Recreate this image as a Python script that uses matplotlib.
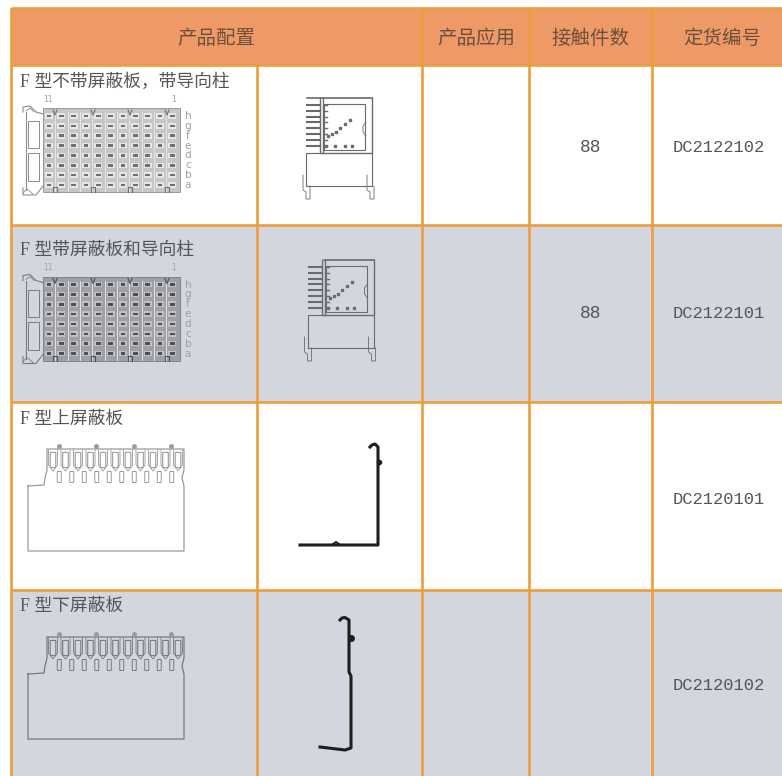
import matplotlib
matplotlib.use("Agg")
import matplotlib.pyplot as plt
from matplotlib.patches import Rectangle, FancyBboxPatch

plt.rcParams["font.family"] = ["Noto Sans CJK SC", "DejaVu Sans"]

# table content
headers = ["产品配置", "产品应用", "接触件数", "定货编号"]
row_titles = ["F 型不带屏蔽板，带导向柱", "F 型带屏蔽板和导向柱", "F 型上屏蔽板", "F 型下屏蔽板"]
contact_counts = ["88", "88", "", ""]
order_codes = ["DC2122102", "DC2122101", "DC2120101", "DC2120102"]
pin_rows = ["h", "g", "f", "e", "d", "c", "b", "a"]
pin_cols = ["11", "1"]

# table grid in image pixels
col_edges = [11, 257, 422, 529, 652, 782]
row_edges = [8, 65, 225, 402, 590, 776]
header_centers = [216, 476, 591, 722]
title_y = [82, 250, 419, 606]
value_y = [147, 314, 500, 686]

HEADER_FILL = "#EE9A66"
LINE_COLOR = "#EB9E3C"
ROW_GRAY = "#D3D6DE"
TEXT_COLOR = "#555557"
HEADER_TEXT = "#6E4E3C"


def draw_grid(ax):
    ax.add_patch(Rectangle((col_edges[0], row_edges[0]), col_edges[-1] - col_edges[0],
                           row_edges[1] - row_edges[0], fc=HEADER_FILL, ec="none"))
    for i in (1, 3):
        ax.add_patch(Rectangle((col_edges[0], row_edges[i + 1]), col_edges[-1] - col_edges[0],
                               row_edges[i + 2] - row_edges[i + 1], fc=ROW_GRAY, ec="none"))
    for y in row_edges[:-1]:
        ax.plot([col_edges[0], col_edges[-1]], [y, y], color=LINE_COLOR, lw=1.9, solid_capstyle="butt")
    for i, x in enumerate(col_edges[:-1]):
        top = row_edges[1] if i == 1 else row_edges[0]
        ax.plot([x, x], [top, row_edges[-1]], color=LINE_COLOR, lw=1.9, solid_capstyle="butt")


def draw_front(ax, dy, fill, box, cell, edge):
    # connector seen from the mating face
    ax.add_patch(Rectangle((43, 108 + dy), 137, 84, fc=fill, ec=edge, lw=0.6))
    ax.plot([23, 23, 30, 36, 43], [112 + dy, 107 + dy, 106 + dy, 112 + dy, 114 + dy], color=edge, lw=0.8)
    ax.plot([23, 23, 36, 43], [188 + dy, 195 + dy, 195 + dy, 186 + dy], color=edge, lw=0.8)
    ax.plot([23, 27, 33], [193 + dy, 189 + dy, 194 + dy], color=edge, lw=0.6)
    ax.plot([26, 30, 34], [111 + dy, 108 + dy, 112 + dy], color=edge, lw=0.6)
    ax.plot([26, 26], [112 + dy, 190 + dy], color=edge, lw=0.8)
    ax.add_patch(Rectangle((28, 121 + dy), 11, 27, fc="none", ec=edge, lw=0.7))
    ax.add_patch(Rectangle((28, 153 + dy), 11, 28, fc="none", ec=edge, lw=0.7))
    for c in range(11):
        x = 49 + c * 12.33
        if c > 0:
            ax.plot([x - 6, x - 6], [112 + dy, 191 + dy], color="#EEEEEE", lw=0.6)
        for r in range(8):
            y = 116 + r * 9.86 + dy
            ax.add_patch(Rectangle((x - 4, y - 2.8), 8, 5.6, fc=box, ec="none"))
            ax.add_patch(Rectangle((x - 2.2, y - 1.3), 4.4, 2.6, fc=cell, ec="none"))
    for x in (55, 93, 130, 167):
        ax.plot([x - 2, x, x + 2], [110 + dy, 115 + dy, 110 + dy], color=cell, lw=0.8)
        ax.plot([x - 2, x - 2, x + 2, x + 2], [192 + dy, 187 + dy, 187 + dy, 192 + dy], color=cell, lw=0.8)
    for r, letter in enumerate(pin_rows):
        ax.text(188, 116 + r * 9.86 + dy, letter, fontsize=7.5, color="#A0A0A0",
                ha="center", va="center", family="DejaVu Sans")
    ax.text(48, 99 + dy, pin_cols[0], fontsize=5.5, color="#A0A0A0", ha="center", va="center", family="DejaVu Sans")
    ax.text(174, 99 + dy, pin_cols[1], fontsize=5.5, color="#A0A0A0", ha="center", va="center", family="DejaVu Sans")


def draw_side(ax, dx, dy, color, top_left):
    # connector seen from the side
    lw = 0.8
    ax.plot([top_left + dx, 372 + dx], [98 + dy, 98 + dy], color=color, lw=1.2)
    ax.plot([372 + dx, 372 + dx, 320 + dx, 320 + dx], [98 + dy, 153 + dy, 153 + dy, 98 + dy], color=color, lw=1.0)
    ax.plot([323 + dx, 323 + dx], [98 + dy, 153 + dy], color=color, lw=1.0)
    ax.add_patch(Rectangle((324 + dx, 104 + dy), 41, 46, fc="none", ec=color, lw=lw))
    ax.plot([366 + dx, 363 + dx, 363 + dx, 366 + dx], [122 + dy, 126 + dy, 132 + dy, 136 + dy], color=color, lw=0.6)
    ax.plot([320 + dx, 306 + dx, 306 + dx, 372 + dx, 372 + dx],
            [153 + dy, 153 + dy, 186 + dy, 186 + dy, 153 + dy], color=color, lw=lw)
    for x0, x1 in ((303, 310), (367, 374)):
        ax.plot([x0 + dx, x0 + dx, x0 + 3 + dx, x0 + 3 + dx, x1 + dx, x1 + dx],
                [175 + dy, 190 + dy, 192 + dy, 199 + dy, 199 + dy, 186 + dy], color=color, lw=0.6)
    for i in range(8):
        y = 105 + i * 5.8 + dy
        ax.plot([307 + dx, 320 + dx], [y, y], color=color, lw=1.5)
        ax.plot([324 + dx, 327 + dx], [y, y], color=color, lw=1.0)
    for x, y in ((328, 136), (332, 134), (336, 132), (340, 128), (345, 124), (350, 120)):
        ax.plot(x + dx, y + dy, "s", ms=1.6, color=color)
    for x in (326, 335, 345, 352):
        ax.plot(x + dx, 146 + dy, "s", ms=1.5, color=color)


def draw_shield(ax, dy, color):
    xs = [28, 28, 184, 184, 182, 184, 184, 47, 47, 45, 44, 28]
    ys = [486, 551, 551, 486, 478, 470, 449, 449, 470, 478, 485, 486]
    ax.plot(xs, [y + dy for y in ys], color=color, lw=0.9)
    for i in range(11):
        x = 53 + i * 12.5
        ax.add_patch(FancyBboxPatch((x - 2.2, 453 + dy), 4.4, 14, boxstyle="round,pad=0.6",
                                    fc="none", ec=color, lw=0.8))
        ax.plot([x - 4.5, x - 4.5, x, x + 4.5, x + 4.5], [450 + dy, 465 + dy, 471 + dy, 465 + dy, 450 + dy],
                color=color, lw=0.6)
        if i < 10:
            ax.add_patch(FancyBboxPatch((x + 6.25 - 1.5, 472 + dy), 3, 10, boxstyle="round,pad=0.5",
                                        fc="none", ec=color, lw=0.7))
    for x in (59, 96, 134, 171):
        ax.plot(x, 445.5 + dy, "o", ms=2.5, color="#999999")


def draw_profiles(ax):
    ax.plot([370, 372, 375, 378, 378, 378, 300], [447, 445, 444, 447, 500, 545, 545],
            color="#1E1E1E", lw=2.2, solid_joinstyle="round")
    ax.plot([333, 336, 339], [544, 542, 544], color="#1E1E1E", lw=1.4)
    ax.plot(378.5, 462, "o", ms=3, color="#1E1E1E")
    ax.plot([340, 342, 345, 349, 349, 351, 351, 345, 320], [620, 618, 617.5, 620, 672, 676, 748, 750, 747],
            color="#1E1E1E", lw=2.2, solid_joinstyle="round")
    ax.plot(351, 638, "o", ms=4, color="#1E1E1E")


def draw_text(ax):
    for x, label in zip(header_centers, headers):
        ax.text(x, 38, label, fontsize=14, color=HEADER_TEXT, ha="center", va="center")
    for y, title in zip(title_y, row_titles):
        ax.text(20, y, title, fontsize=12.8, color=TEXT_COLOR, ha="left", va="center",
                family=["Liberation Serif", "Noto Sans CJK SC"])
    for y, count, code in zip(value_y, contact_counts, order_codes):
        ax.text(591, y, count, fontsize=13, color=TEXT_COLOR, ha="center", va="center", family="Liberation Mono")
        ax.text(719, y, code, fontsize=12.3, color=TEXT_COLOR, ha="center", va="center", family="Liberation Mono")


fig = plt.figure(figsize=(7.82, 7.76), dpi=100)
ax = fig.add_axes([0, 0, 1, 1])
ax.set_xlim(0, 782)
ax.set_ylim(776, 0)
ax.axis("off")

draw_grid(ax)
draw_front(ax, 0, "#C6C6C6", "#E6E6E6", "#707070", "#8C8C8C")
draw_front(ax, 168.5, "#9EA0A6", "#BEC0C6", "#505054", "#7A7A80")
draw_side(ax, 0, 0, "#6A6A6A", 307)
draw_side(ax, 1.5, 162, "#6A6A70", 322)
draw_shield(ax, 0, "#9A9A9A")
draw_shield(ax, 188, "#77787E")
draw_profiles(ax)
draw_text(ax)

fig.savefig("out.png", dpi=100)
